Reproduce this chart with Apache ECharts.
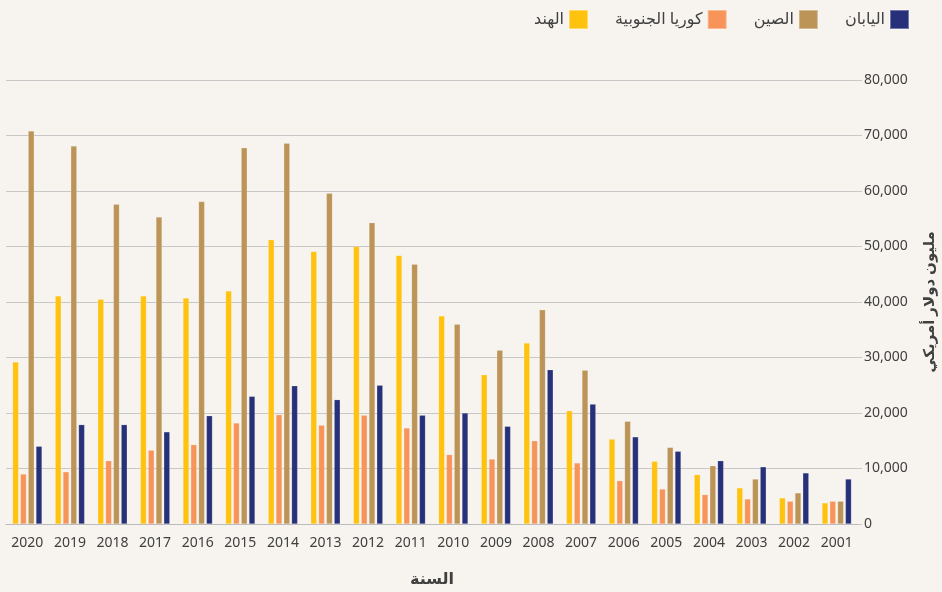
<!DOCTYPE html>
<html>
<head>
<meta charset="utf-8">
<script src="https://cdn.jsdelivr.net/npm/echarts@6/dist/echarts.min.js"></script>
<style>
html,body{margin:0;padding:0;background:#f7f3ee;}
#c{width:942px;height:592px;}
</style>
</head>
<body>
<div id="c"></div>
<script>
const years = ['2020','2019','2018','2017','2016','2015','2014','2013','2012','2011','2010','2009','2008','2007','2006','2005','2004','2003','2002','2001'];
const india = [29200,41100,40500,41100,40700,42000,51200,49100,50000,48400,37500,26900,32600,20400,15300,11300,8900,6500,4700,3800];
const korea = [9000,9400,11400,13300,14300,18200,19700,17800,19600,17300,12500,11700,15000,11000,7800,6300,5300,4500,4100,4100];
const china = [70800,68100,57600,55300,58100,67800,68600,59600,54300,46800,36000,31300,38600,27700,18500,13800,10500,8100,5600,4100];
const japan = [14000,17900,17900,16600,19500,23000,24900,22400,25000,19600,20000,17600,27800,21600,15700,13100,11400,10300,9200,8100];
const yTicks = {min:0, max:80000, interval:10000};
const names = ['الهند','كوريا الجنوبية','الصين','اليابان'];
const colors = ['#FFC20E','#F7945A','#BC9457','#27317A'];
const FONT = '"Noto Sans", "DejaVu Sans", sans-serif';

const chart = echarts.init(document.getElementById('c'));
const mk = (name, data, color) => ({
  name, type:'bar', data, barWidth:6, barGap:'30%',
  itemStyle:{color, borderColor:'rgba(255,255,255,0.35)', borderWidth:0.5}
});
chart.setOption({
  backgroundColor:'#f7f3ee',
  animation:false,
  textStyle:{fontFamily:FONT},
  color:colors,
  legend:{
    data:names, top:4, right:27, itemWidth:19, itemHeight:19, itemGap:26, align:'right',
    icon:'rect',
    textStyle:{fontSize:16, color:'#404040', fontFamily:FONT}
  },
  grid:{left:6, right:84, top:80, bottom:68, outerBoundsMode:'none', containLabel:false},
  xAxis:{
    type:'category', data:years,
    axisLine:{lineStyle:{color:'#bbbbbb'}},
    axisTick:{show:false},
    axisLabel:{fontSize:14, color:'#404040', margin:12, interval:0},
    name:'السنة', nameLocation:'middle', nameGap:47,
    nameTextStyle:{fontSize:16, fontWeight:'bold', color:'#404040'}
  },
  yAxis:{
    type:'value', position:'right', min:yTicks.min, max:yTicks.max, interval:yTicks.interval,
    axisLine:{show:false},
    axisTick:{show:true, length:4, lineStyle:{color:'#c8c8c8'}},
    splitLine:{lineStyle:{color:'#c8c8c8', width:1}},
    axisLabel:{fontSize:14, color:'#404040', margin:6,
      formatter:v=>v.toLocaleString('en-US')},
    name:'مليون دولار أمريكي', nameLocation:'middle', nameGap:64, nameRotate:90,
    nameTextStyle:{fontSize:15, fontWeight:'bold', color:'#404040'}
  },
  series:[mk(names[0],india,colors[0]),mk(names[1],korea,colors[1]),mk(names[2],china,colors[2]),mk(names[3],japan,colors[3])]
});
</script>
</body>
</html>
